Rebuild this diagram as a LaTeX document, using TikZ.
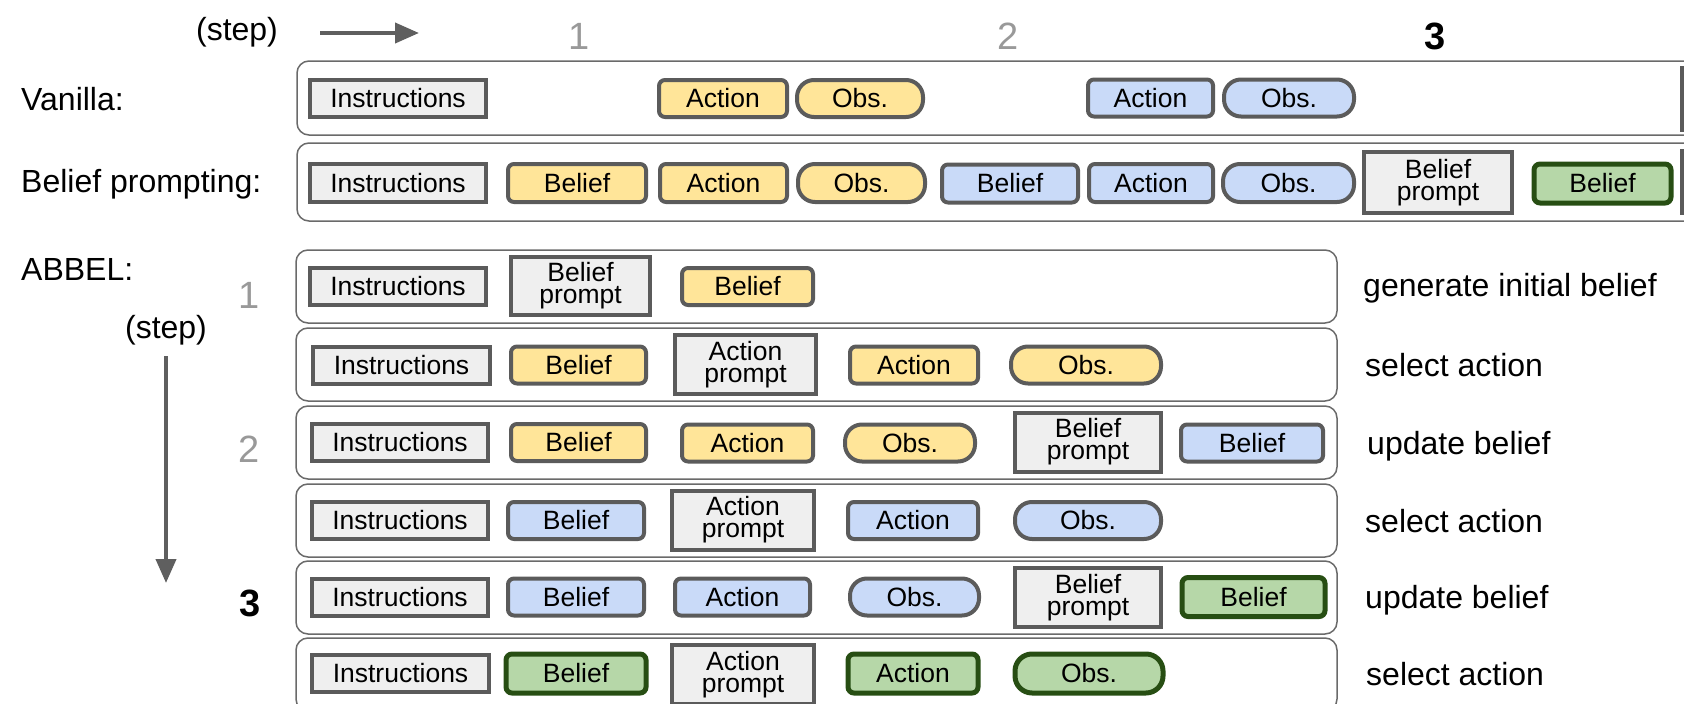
\documentclass[tikz,border=0pt]{standalone}
\usepackage{fontspec}
\setmainfont{Liberation Sans}
\usetikzlibrary{arrows.meta}
\definecolor{bd}{HTML}{5B5B5B}
\definecolor{framecol}{HTML}{6A6A6A}
\definecolor{grayfill}{HTML}{EFEFEF}
\definecolor{yel}{HTML}{FFE599}
\definecolor{blu}{HTML}{C9DAF8}
\definecolor{grn}{HTML}{B6D7A8}
\definecolor{dgreen}{HTML}{274E13}
\definecolor{numgray}{HTML}{999999}
\definecolor{arrcol}{HTML}{5F5F5F}
\tikzset{
  boxbase/.style={draw=bd, line width=4pt, inner sep=0pt, text=black, align=center,
    font=\fontsize{26.5}{22}\selectfont},
  instr/.style={boxbase, fill=grayfill},
  prm/.style={boxbase, fill=grayfill},
  yb/.style={boxbase, fill=yel, rounded corners=6pt},
  bb/.style={boxbase, fill=blu, rounded corners=6pt},
  gb/.style={boxbase, fill=grn, draw=dgreen, line width=5pt, rounded corners=6pt},
  yo/.style={yb, rounded corners=17pt},
  bo/.style={bb, rounded corners=17pt},
  go/.style={gb, rounded corners=17pt},
  frame/.style={draw=framecol, line width=1.5pt, rounded corners=12pt},
  lab/.style={anchor=base west, inner sep=0pt, font=\fontsize{32}{38}\selectfont},
  stepnum/.style={anchor=base, inner sep=0pt, font=\fontsize{38}{44}\selectfont, text=numgray},
  stepnumb/.style={anchor=base, inner sep=0pt, font=\fontsize{38}{44}\selectfont\bfseries, text=black},
  arr/.style={draw=arrcol, line width=4pt, -{Triangle[length=24pt,width=20pt]}},
}
% \Bx{style}{name}{x1}{x2}{ycenter}{height}{text}
\newcommand{\Bx}[7]{\node[#1,minimum width={(#4)-(#3)-4},minimum height={(#6)-4}] (#2) at ({((#3)+(#4))/2},#5) {#7};}
\begin{document}
\begin{tikzpicture}[x=1pt,y=-1pt]
\useasboundingbox (0,0) rectangle (1684,704);
\clip (0,0) rectangle (1684,704);

% ---- top header
\node[anchor=base, inner sep=0pt, font=\fontsize{32}{38}\selectfont] (steptop) at (237,40) {(step)};
\coordinate (hs) at (320,33);
\coordinate (he) at (419,33);
\draw[arr] (hs) -- (he);
\node[stepnum] (n1) at (579,49) {1};
\node[stepnum] (n2) at (1008,49) {2};
\node[stepnumb] (n3) at (1435,49) {3};

% ---- labels
\node[lab] (lvan) at (21,110) {Vanilla:};
\node[lab] (lbp) at (21,192) {Belief prompting:};
\node[lab] (labb) at (21,280) {ABBEL:};
\node[anchor=base, inner sep=0pt, font=\fontsize{32}{38}\selectfont] (stepleft) at (166,338) {(step)};
\coordinate (vs) at (166,356);
\coordinate (ve) at (166,583);
\draw[arr] (vs) -- (ve);
\node[stepnum] (a1) at (249,308) {1};
\node[stepnum] (a2) at (249,462) {2};
\node[stepnumb] (a3) at (250,616) {3};

% ---- frames
\draw[frame] (297,61) rectangle (1800,135);
\draw[frame] (297,143) rectangle (1800,221);
\foreach \t in {250,328,406,484,561,638}{
  \draw[frame] (296,\t) rectangle (1337,\t+73);
}

% ---- Vanilla row
\Bx{instr}{vI}{308}{488}{98}{41}{Instructions}
\Bx{yb}{vA1}{657}{789}{98.5}{41}{Action}
\Bx{yo}{vO1}{795}{925}{98.5}{41}{Obs.}
\Bx{bb}{vA2}{1086}{1215}{98}{41}{Action}
\Bx{bo}{vO2}{1222}{1356}{98}{41}{Obs.}
\Bx{prm}{vX}{1680}{1800}{99}{66}{}

% ---- Belief prompting row
\Bx{instr}{pI}{308}{488}{183}{42}{Instructions}
\Bx{yb}{pB1}{506}{648}{183}{42}{Belief}
\Bx{yb}{pA1}{658}{789}{183}{42}{Action}
\Bx{yo}{pO1}{796}{927}{183}{42}{Obs.}
\Bx{bb}{pB2}{940}{1080}{183.5}{42}{Belief}
\Bx{bb}{pA2}{1087}{1215}{183}{42}{Action}
\Bx{bo}{pO2}{1221}{1356}{183}{42}{Obs.}
\Bx{prm}{pP}{1362}{1514}{182.5}{65}{Belief\\prompt}
\Bx{gb}{pB3}{1532}{1673}{183.5}{43}{Belief}
\Bx{prm}{pX}{1680}{1800}{182}{66}{}

% ---- ABBEL row 1
\Bx{instr}{r1I}{308}{488}{286.5}{41}{Instructions}
\Bx{prm}{r1P}{509}{652}{286}{62}{Belief\\prompt}
\Bx{yb}{r1B}{680}{815}{286.5}{41}{Belief}
\node[lab] (t1) at (1363,296) {generate initial belief};

% ---- row 2
\Bx{instr}{r2I}{311}{492}{365}{41}{Instructions}
\Bx{yb}{r2B}{509}{648}{365}{41}{Belief}
\Bx{prm}{r2P}{673}{818}{364.5}{63}{Action\\prompt}
\Bx{yb}{r2A}{848}{980}{365}{41}{Action}
\Bx{yo}{r2O}{1009}{1163}{365}{41}{Obs.}
\node[lab] (t2) at (1365,376) {select action};

% ---- row 3
\Bx{instr}{r3I}{310}{490}{442.5}{41}{Instructions}
\Bx{yb}{r3B}{509}{648}{442.5}{41}{Belief}
\Bx{yb}{r3A}{680}{815}{443}{41}{Action}
\Bx{yo}{r3O}{843}{977}{443}{41}{Obs.}
\Bx{prm}{r3P}{1013}{1163}{442}{63}{Belief\\prompt}
\Bx{bb}{r3B2}{1179}{1325}{443}{41}{Belief}
\node[lab] (t3) at (1367,454) {update belief};

% ---- row 4
\Bx{instr}{r4I}{310}{490}{520.5}{41}{Instructions}
\Bx{bb}{r4B}{506}{646}{520.5}{41}{Belief}
\Bx{prm}{r4P}{670}{816}{520}{63}{Action\\prompt}
\Bx{bb}{r4A}{846}{980}{520.5}{41}{Action}
\Bx{bo}{r4O}{1013}{1163}{520.5}{41}{Obs.}
\node[lab] (t4) at (1365,532) {select action};

% ---- row 5
\Bx{instr}{r5I}{310}{490}{597}{41}{Instructions}
\Bx{bb}{r5B}{506}{646}{597}{41}{Belief}
\Bx{bb}{r5A}{673}{812}{597}{41}{Action}
\Bx{bo}{r5O}{848}{981}{597}{41}{Obs.}
\Bx{prm}{r5P}{1013}{1163}{597.5}{63}{Belief\\prompt}
\Bx{gb}{r5B2}{1180}{1327}{597}{43}{Belief}
\node[lab] (t5) at (1365,608) {update belief};

% ---- row 6
\Bx{instr}{r6I}{310}{491}{673}{41}{Instructions}
\Bx{gb}{r6B}{504}{648}{673.5}{43}{Belief}
\Bx{prm}{r6P}{670}{816}{674.5}{63}{Action\\prompt}
\Bx{gb}{r6A}{846}{980}{673.5}{43}{Action}
\Bx{go}{r6O}{1013}{1165}{673.5}{43}{Obs.}
\node[lab] (t6) at (1366,685) {select action};
\end{tikzpicture}
\end{document}
